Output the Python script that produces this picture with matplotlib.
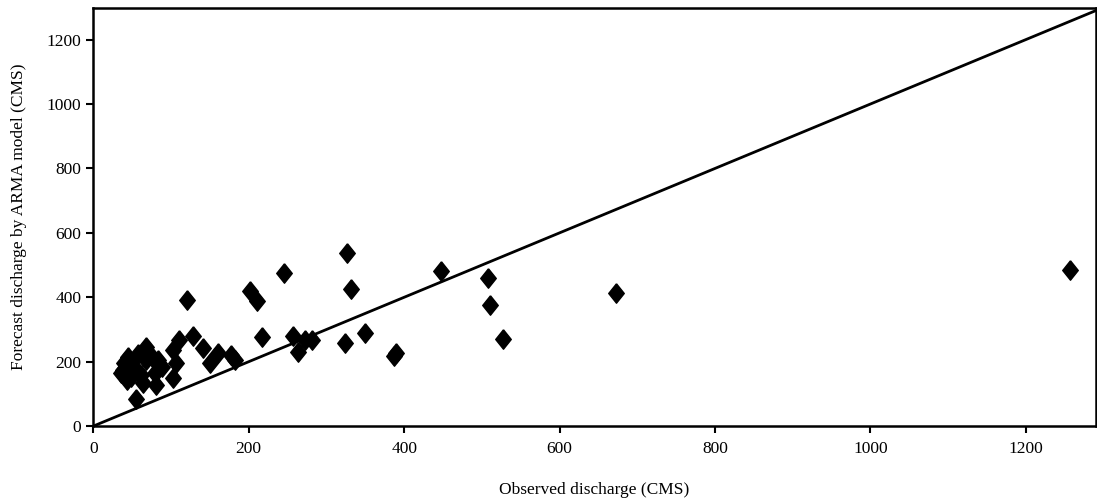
import numpy as np
import matplotlib.pyplot as plt

plt.rcParams['font.family'] = ['Liberation Serif', 'DejaVu Serif']

# observed vs forecast discharge (CMS)
observed = [326, 245, 332, 120, 202, 211, 217, 257, 263, 282, 272, 324, 349,
            390, 387, 128, 110, 141, 160, 150, 177, 182, 102, 107, 102, 81,
            55, 45, 68, 68, 38, 49, 62, 83, 89, 40, 53, 75, 58, 43, 64, 36,
            79, 447, 508, 510, 527, 673, 1257]
forecast = [537, 475, 425, 392, 418, 387, 278, 280, 231, 267, 267, 257, 288,
            226, 218, 280, 267, 242, 226, 195, 221, 205, 236, 195, 148, 128,
            83, 216, 247, 205, 174, 153, 160, 205, 185, 195, 185, 215, 225,
            143, 133, 164, 165, 482, 460, 376, 271, 414, 485]
line_ends = [0, 1290]

fig = plt.figure(figsize=(10.97, 4.99), dpi=100)
ax = fig.add_axes([0.085, 0.146, 0.914, 0.838])

diamond = [(0, 1), (0.8, 0), (0, -1), (-0.8, 0), (0, 1)]
ax.plot(line_ends, line_ends, color='black', lw=2, zorder=2)
ax.plot(observed, forecast, linestyle='none', marker=diamond, ms=14,
        color='black', zorder=3)

ax.set_xlim(0, 1290)
ax.set_ylim(0, 1298)
ax.set_xticks(np.arange(0, 1201, 200))
ax.set_yticks(np.arange(0, 1201, 200))
for s in ax.spines.values():
    s.set_linewidth(1.8)
ax.tick_params(direction='out', length=5, width=1.5, labelsize=12.5,
               colors='black')
ax.tick_params(axis='x', pad=6)
ax.set_xlabel('Observed discharge (CMS)', fontsize=12.5, labelpad=18)
ax.set_ylabel('Forecast discharge by ARMA model (CMS)', fontsize=12.5,
              labelpad=14)

plt.savefig('out.png')
